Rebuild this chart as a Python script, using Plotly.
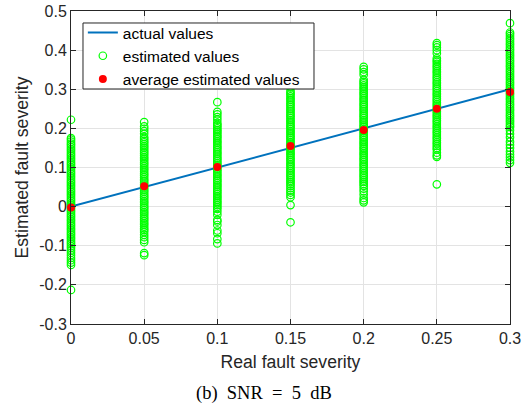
import plotly.graph_objects as go

# Real fault severity levels (x categories)
severity = [0.0, 0.05, 0.10, 0.15, 0.20, 0.25, 0.30]
actual_values = [0.0, 0.05, 0.10, 0.15, 0.20, 0.25, 0.30]

# Estimated values (per severity level)
est_000 = [0.222, 0.175, 0.171, 0.166, 0.161, 0.157, 0.152, 0.147, 0.143, 0.138, 0.133, 0.129,
           0.124, 0.120, 0.115, 0.110, 0.106, 0.101, 0.097, 0.092, 0.087, 0.083, 0.078, 0.074,
           0.069, 0.064, 0.060, 0.055, 0.051, 0.046, 0.041, 0.037, 0.032, 0.028, 0.023, 0.018,
           0.014, 0.009, 0.005, 0.000, -0.004, -0.009, -0.013, -0.018, -0.023, -0.027, -0.032,
           -0.036, -0.041, -0.046, -0.050, -0.055, -0.059, -0.064, -0.069, -0.073, -0.078,
           -0.082, -0.087, -0.092, -0.096, -0.101, -0.106, -0.112, -0.118, -0.124, -0.131,
           -0.137, -0.143, -0.149, -0.213]
est_005 = [0.216, 0.205, 0.199, 0.193, 0.186, 0.178, 0.173, 0.168, 0.164, 0.159, 0.154, 0.150,
           0.145, 0.140, 0.136, 0.131, 0.126, 0.122, 0.117, 0.112, 0.108, 0.103, 0.098, 0.094,
           0.089, 0.084, 0.080, 0.075, 0.070, 0.066, 0.061, 0.056, 0.052, 0.047, 0.042, 0.038,
           0.033, 0.028, 0.024, 0.019, 0.014, 0.010, 0.005, 0.000, -0.004, -0.009, -0.014,
           -0.018, -0.023, -0.028, -0.032, -0.037, -0.042, -0.046, -0.051, -0.056, -0.060,
           -0.065, -0.072, -0.078, -0.085, -0.091, -0.119, -0.124]
est_010 = [0.267, 0.242, 0.236, 0.229, 0.222, 0.214, 0.209, 0.205, 0.200, 0.195, 0.191, 0.186,
           0.181, 0.177, 0.172, 0.167, 0.163, 0.158, 0.153, 0.149, 0.144, 0.139, 0.135, 0.130,
           0.125, 0.121, 0.116, 0.111, 0.107, 0.102, 0.097, 0.093, 0.088, 0.083, 0.079, 0.074,
           0.069, 0.065, 0.060, 0.055, 0.051, 0.046, 0.041, 0.037, 0.032, 0.027, 0.023, 0.018,
           0.013, 0.009, 0.004, -0.001, -0.006, -0.013, -0.021, -0.034, -0.038, -0.047, -0.061,
           -0.068, -0.083, -0.094]
est_015 = [0.335, 0.318, 0.305, 0.296, 0.291, 0.287, 0.282, 0.277, 0.273, 0.268, 0.263, 0.259,
           0.254, 0.249, 0.245, 0.240, 0.235, 0.231, 0.226, 0.221, 0.217, 0.212, 0.207, 0.203,
           0.198, 0.193, 0.189, 0.184, 0.179, 0.175, 0.170, 0.165, 0.161, 0.156, 0.151, 0.147,
           0.142, 0.137, 0.133, 0.128, 0.123, 0.119, 0.114, 0.109, 0.105, 0.100, 0.095, 0.091,
           0.086, 0.081, 0.077, 0.072, 0.067, 0.063, 0.058, 0.053, 0.047, 0.041, 0.036, 0.030,
           0.024, 0.004, -0.040]
est_020 = [0.357, 0.351, 0.344, 0.337, 0.324, 0.319, 0.315, 0.310, 0.305, 0.301, 0.296, 0.291,
           0.287, 0.282, 0.277, 0.273, 0.268, 0.263, 0.259, 0.254, 0.249, 0.245, 0.240, 0.235,
           0.231, 0.226, 0.221, 0.217, 0.212, 0.207, 0.203, 0.198, 0.193, 0.189, 0.184, 0.179,
           0.175, 0.170, 0.165, 0.161, 0.156, 0.151, 0.147, 0.142, 0.137, 0.133, 0.128, 0.123,
           0.119, 0.114, 0.109, 0.105, 0.100, 0.095, 0.091, 0.086, 0.081, 0.077, 0.072, 0.067,
           0.063, 0.058, 0.053, 0.046, 0.039, 0.031, 0.022, 0.016, 0.011]
est_025 = [0.418, 0.413, 0.407, 0.400, 0.392, 0.379, 0.374, 0.370, 0.365, 0.360, 0.356, 0.351,
           0.346, 0.342, 0.337, 0.332, 0.328, 0.323, 0.318, 0.314, 0.309, 0.304, 0.300, 0.295,
           0.290, 0.286, 0.281, 0.276, 0.272, 0.267, 0.262, 0.258, 0.253, 0.248, 0.244, 0.239,
           0.234, 0.230, 0.225, 0.220, 0.216, 0.211, 0.206, 0.202, 0.197, 0.192, 0.188, 0.183,
           0.178, 0.174, 0.169, 0.164, 0.160, 0.155, 0.150, 0.146, 0.138, 0.131, 0.127, 0.057]
est_030 = [0.469, 0.445, 0.441, 0.436, 0.431, 0.427, 0.422, 0.417, 0.413, 0.408, 0.403, 0.399,
           0.394, 0.389, 0.385, 0.380, 0.375, 0.371, 0.366, 0.361, 0.357, 0.352, 0.347, 0.343,
           0.338, 0.333, 0.329, 0.324, 0.319, 0.315, 0.310, 0.305, 0.301, 0.296, 0.291, 0.287,
           0.282, 0.277, 0.273, 0.268, 0.263, 0.259, 0.254, 0.249, 0.245, 0.240, 0.235, 0.231,
           0.226, 0.221, 0.217, 0.212, 0.207, 0.203, 0.195, 0.186, 0.177, 0.166, 0.158, 0.150,
           0.141, 0.133, 0.126, 0.119, 0.112]

average_estimated = [-0.002, 0.052, 0.101, 0.155, 0.196, 0.250, 0.293]

x_ticks = [0, 0.05, 0.1, 0.15, 0.2, 0.25, 0.3]
x_tick_labels = ["0", "0.05", "0.1", "0.15", "0.2", "0.25", "0.3"]
y_ticks = [-0.3, -0.2, -0.1, 0, 0.1, 0.2, 0.3, 0.4, 0.5]
y_tick_labels = ["-0.3", "-0.2", "-0.1", "0", "0.1", "0.2", "0.3", "0.4", "0.5"]

est_columns = [est_000, est_005, est_010, est_015, est_020, est_025, est_030]
est_x = []
est_y = []
for s, col in zip(severity, est_columns):
    est_x.extend([s] * len(col))
    est_y.extend(col)

FONT = "Liberation Sans, Arial, sans-serif"
AXC = "#262626"

fig = go.Figure()
fig.add_trace(go.Scatter(
    x=severity, y=actual_values, mode="lines", name="actual values",
    line=dict(color="#0072BD", width=2), cliponaxis=False))
fig.add_trace(go.Scatter(
    x=est_x, y=est_y, mode="markers", name="estimated values",
    marker=dict(symbol="circle-open", size=7.5, color="#00FF00",
                line=dict(width=1.2, color="#00FF00")),
    cliponaxis=False))
fig.add_trace(go.Scatter(
    x=severity, y=average_estimated, mode="markers", name="average estimated values",
    marker=dict(symbol="circle", size=8, color="#FF0000"), cliponaxis=False))

axis_common = dict(
    showgrid=True, gridcolor="#e3e3e3", gridwidth=1,
    ticks="inside", ticklen=5, tickwidth=1, tickcolor=AXC,
    showline=True, linecolor=AXC, linewidth=1, mirror="allticks",
    zeroline=False, automargin=False, ticklabeloverflow="allow",
    tickfont=dict(family=FONT, size=16, color=AXC),
)

fig.update_layout(
    width=527, height=411,
    margin=dict(l=71, r=17, t=11, b=87),
    paper_bgcolor="white", plot_bgcolor="white",
    font=dict(family=FONT, color=AXC),
    xaxis=dict(range=[0, 0.3], tickvals=x_ticks, ticktext=x_tick_labels,
               title=dict(text="Real fault severity", font=dict(family=FONT, size=17.6, color=AXC),
                          standoff=9),
               **axis_common),
    yaxis=dict(range=[-0.3, 0.5], tickvals=y_ticks, ticktext=y_tick_labels,
               title=dict(text="Estimated fault severity", font=dict(family=FONT, size=17.6, color=AXC),
                          standoff=6),
               **axis_common),
    legend=dict(x=0.027, y=0.984, xanchor="left", yanchor="top",
                bgcolor="rgba(0,0,0,0)", borderwidth=0,
                font=dict(family=FONT, size=15.5, color="#000000"),
                itemwidth=30, tracegroupgap=0),
    showlegend=True,
    shapes=[dict(type="rect", xref="paper", yref="paper",
                 x0=0.0273, x1=0.5535, y0=0.7508, y1=0.9617,
                 fillcolor="white", line=dict(color=AXC, width=1), layer="above")],
    annotations=[dict(
        text="(b)\u2002SNR\u2002=\u20025\u2002dB", xref="paper", yref="paper",
        x=0.4385, y=-0.222, xanchor="center", yanchor="middle", showarrow=False,
        font=dict(family="Liberation Serif, Times New Roman, serif", size=18.5, color="#000000"))],
)

# remove the page's default 8px body margin so the figure sits at the window origin
fig.write_html("out.html", config={"displayModeBar": False},
               post_script="document.body.style.margin='0px';")
